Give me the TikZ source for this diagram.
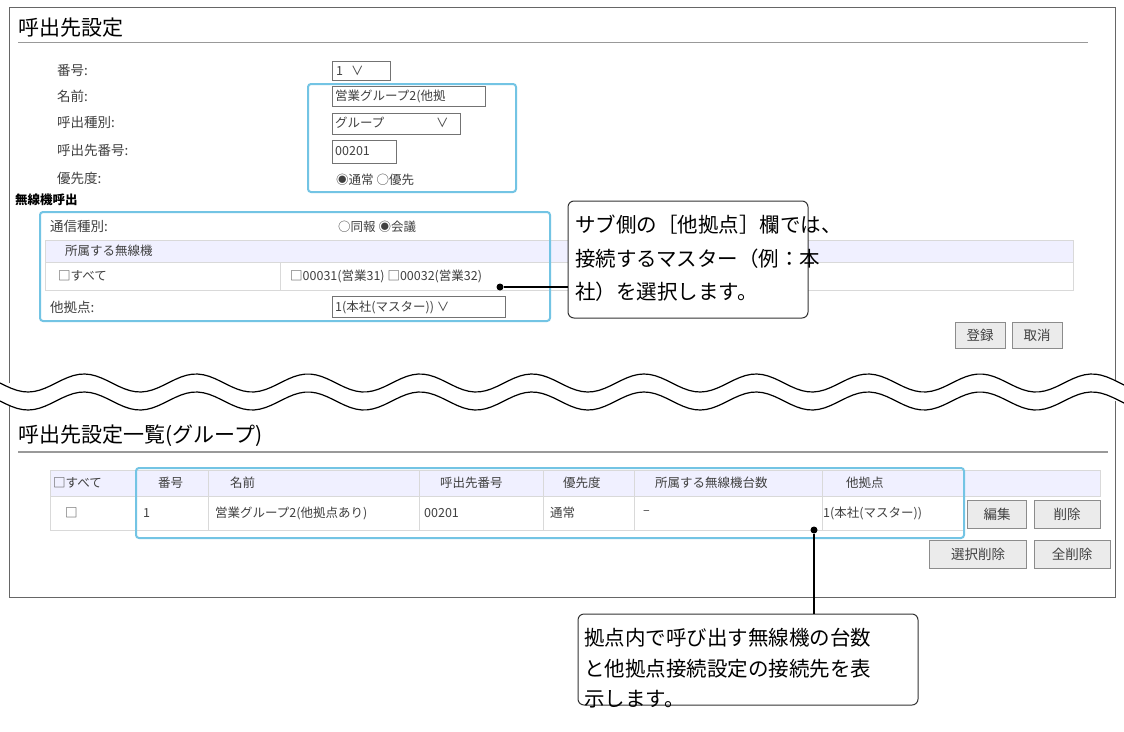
\documentclass[tikz,border=0pt]{standalone}
\usepackage{fontspec}
\setmainfont{Noto Sans CJK JP}
\begin{document}
\begin{tikzpicture}[x=1pt,y=-1pt,
  lbl/.style={anchor=west,inner sep=0,font=\fontsize{13.5}{13.5}\selectfont,text=black!75},
  sm/.style={anchor=west,inner sep=0,font=\fontsize{12.5}{12.5}\selectfont,text=black!75},
  fld/.style={draw=black!55,fill=white},
  cyanbox/.style={draw=cyan!70!teal!60,line width=2pt,rounded corners=3pt},
  btn/.style={draw=black!45,fill=black!8,font=\fontsize{13.5}{13.5}\selectfont,text=black!75},
  callout/.style={draw=black!80,line width=1pt,rounded corners=6pt,fill=white},
  ctext/.style={anchor=west,inner sep=0,font=\fontsize{20.5}{20.5}\selectfont},
  conn/.style={line width=2pt},
  dot/.style={circle,fill=black,inner sep=0,minimum size=7pt},
  hdr/.style={fill=blue!6,draw=black!15}]
\useasboundingbox (0,0) rectangle (1124,731);
\fill[white] (0,0) rectangle (1124,731);
% frame
\draw[black!60,line width=1pt] (9,383) -- (9,7) -- (1115,7) -- (1115,383);
\draw[black!60,line width=1pt] (9,401) -- (9,597) -- (1115,597) -- (1115,401);
% top title
\node[anchor=west,inner sep=0,font=\fontsize{21}{21}\selectfont] (t1) at (18,28) {呼出先設定};
\draw[black!40,line width=1pt] (18,42) -- (1088,42);
\node[lbl] (l1) at (57,70) {番号:};
\node[lbl] (l2) at (57,96) {名前:};
\node[lbl] (l3) at (57,122) {呼出種別:};
\node[lbl] (l4) at (57,150) {呼出先番号:};
\node[lbl] (l5) at (57,178) {優先度:};
\node[anchor=west,inner sep=0,font=\bfseries\fontsize{12.5}{12.5}\selectfont] (l6) at (15,200) {無線機呼出};
\draw[fld] (332,61) rectangle (390,80); \node[sm] (v1) at (336,71) {1\hspace{8pt}∨};
\draw[fld] (332,86) rectangle (485,106); \node[sm] (v2) at (335,96) {営業グループ2(他拠};
\draw[fld] (332,113) rectangle (460,134); \node[sm] (v3) at (335,123) {グループ}; \node[sm] (v3b) at (436,123) {∨};
\draw[fld] (332,140) rectangle (396,163); \node[sm] (v4) at (335,151) {00201};
\node[sm] (v5) at (336,180) {◉通常 ○優先};
\draw[cyanbox] (308,84) rectangle (516,192);
% wireless
\node[lbl] (l7) at (50,226) {通信種別:};
\node[sm] (v7) at (338,227) {○同報 ◉会議};
\draw[hdr] (45,240) rectangle (1073,262);
\node[sm] (h1) at (65,251) {所属する無線機};
\draw[black!15] (45,262) rectangle (1073,290) (280,262) -- (280,290);
\node[sm] (c1) at (58,276) {□すべて};
\node[sm] (c2) at (290,276) {□00031(営業31) □00032(営業32)};
\node[lbl] (l8) at (50,307) {他拠点:};
\draw[fld] (332,296) rectangle (505,317); \node[sm] (v8) at (335,307) {1(本社(マスター)) ∨};
\draw[cyanbox] (40,212) rectangle (550,321);
\node[callout,minimum width=240pt,minimum height=117pt] (co1) at (688,259.5) {};
\node[ctext] at (575,225) {サブ側の［他拠点］欄では、};
\node[ctext] at (575,259) {接続するマスター（例：本};
\node[ctext] at (575,292) {社）を選択します。};
\node[dot] (d1) at (500,287) {};
\draw[conn] (d1) -- (co1.west |- d1);
\node[btn,minimum width=50pt,minimum height=26pt] (b1) at (980,335) {登録};
\node[btn,minimum width=50pt,minimum height=26pt] (b2) at (1037,335) {取消};
% wave break
\fill[white] plot[domain=0:1124,samples=200] (\x,{383+9*sin(\x/112*360)}) -- plot[domain=1124:0,samples=200] (\x,{401+9*sin(\x/112*360)}) -- cycle;
\draw[line width=1.2pt] plot[domain=0:1124,samples=200] (\x,{383+9*sin(\x/112*360)});
\draw[line width=1.2pt] plot[domain=0:1124,samples=200] (\x,{401+9*sin(\x/112*360)});
% bottom
\node[anchor=west,inner sep=0,font=\fontsize{21}{21}\selectfont] (t2) at (18,436) {呼出先設定一覧(グループ)};
\draw[black!40,line width=1.5pt] (18,452) -- (1108,452);
\draw[hdr] (50,470) rectangle (1100,496);
\draw[black!15] (50,496) rectangle (964,530);
\foreach \c in {136,208,419,543,634,822,964} \draw[black!15] (\c,470) -- (\c,530);
\node[sm] at (53,483) {□すべて};
\node[sm] at (158,483) {番号};
\node[sm] at (230,483) {名前};
\node[sm] at (440,483) {呼出先番号};
\node[sm] at (563,483) {優先度};
\node[sm] at (655,483) {所属する無線機台数};
\node[sm] at (846,483) {他拠点};
\node[sm] at (65,513) {□};
\node[sm] at (143,513) {1};
\node[sm] at (215,513) {営業グループ2(他拠点あり)};
\node[sm] at (424,513) {00201};
\node[sm] at (550,513) {通常};
\node[sm] at (643,513) {–};
\node[sm] at (823,513) {1(本社(マスター))};
\node[btn,minimum width=59pt,minimum height=28pt] (b3) at (997,514) {編集};
\node[btn,minimum width=66pt,minimum height=28pt] (b4) at (1067,514) {削除};
\node[btn,minimum width=97pt,minimum height=28pt] (b5) at (978,554) {選択削除};
\node[btn,minimum width=76pt,minimum height=28pt] (b6) at (1072,554) {全削除};
\draw[cyanbox] (136,468) rectangle (964,538);
\node[callout,minimum width=340pt,minimum height=91pt] (co2) at (748,659.5) {};
\node[ctext] at (584,638) {拠点内で呼び出す無線機の台数};
\node[ctext] at (584,669) {と他拠点接続設定の接続先を表};
\node[ctext] at (584,699) {示します。};
\node[dot] (d2) at (814,530) {};
\draw[conn] (d2) -- (d2 |- co2.north);
\end{tikzpicture}
\end{document}
